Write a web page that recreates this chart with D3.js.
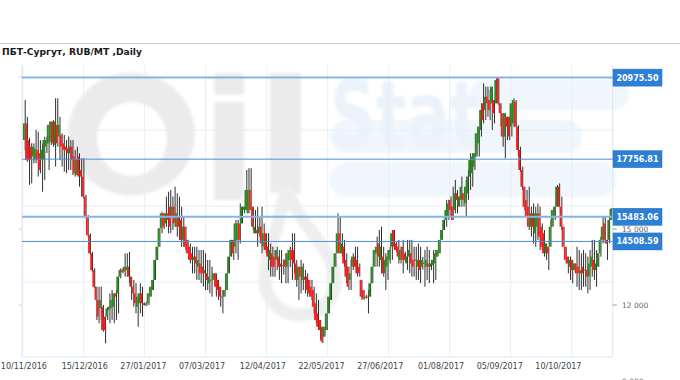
<!DOCTYPE html>
<html><head><meta charset="utf-8">
<script src="https://cdn.jsdelivr.net/npm/d3@7"></script>
<style>html,body{margin:0;padding:0;background:#fff;overflow:hidden}</style>
</head><body><svg id="c" width="680" height="380"></svg>
<script>
const title = "ПБТ-Сургут,  RUB/MT ,Daily";
const opens = [18510,19170,18510,18250,17860,17720,18120,17990,17720,17720,18250,18380,18450,19240,18320,19110,18650,18710,18380,18250,18180,17990,18250,17860,17130,17860,17330,17070,16280,15490,14760,14040,13380,12720,12200,11870,11930,11540,11540,11800,11870,11930,12460,12460,13120,13380,13320,13380,13510,13120,12720,12460,11930,12070,12460,12070,12000,12070,12330,12590,12990,13780,14300,15030,15620,15220,15620,15880,15490,15880,15090,15490,15360,14570,15090,14570,14300,14040,13780,13910,13510,13640,13510,13250,13250,12860,13000,12990,13250,12990,12720,12330,12330,12590,13250,13910,14570,14300,14570,15220,15220,15750,15750,15620,16540,15880,14830,14960,14830,15090,14300,14830,14300,13780,14040,13910,13780,13910,13640,13540,13780,13510,13780,14170,14170,13640,12990,13510,12990,13120,13120,12990,12720,12590,12070,11670,11410,11140,10750,11010,11670,12200,12860,13510,14040,14830,14040,14300,13780,13510,12990,13510,13910,13780,13510,12990,12590,12300,12330,12330,12860,13510,14040,14430,13780,13910,13250,13510,13780,14300,14960,14430,14300,13780,14300,14040,13640,13910,14040,13780,13800,13510,13780,13510,13670,13510,13640,13510,13570,13640,13910,14040,14570,14960,15360,15490,16150,15880,15750,16410,15880,16150,16410,16010,16410,17070,17200,17460,17860,18380,18910,19960,19700,20220,20090,19960,20090,19960,20950,19960,19570,18650,19430,19430,19040,19170,20030,19040,18120,17330,16670,16150,15880,15090,15620,14830,15090,15620,15090,14830,14040,14300,14300,15090,15490,15880,16670,15880,15090,14300,13910,13510,13780,13380,13640,13510,13250,13510,13360,13380,13120,13510,13780,13380,13510,14040,14570,15220,14570,14570,15360];
const highs = [20090,19430,18600,18380,18380,18910,18840,18510,18380,18640,18640,19110,19240,19300,20160,20160,19430,18780,18710,18510,18650,18510,18510,18120,18250,17990,17790,17790,16350,15550,14830,14100,13450,12720,12720,12720,12000,11540,11930,12460,12590,12460,12590,13120,13450,13450,14040,14040,14100,13120,12990,12860,12460,12860,12720,12100,12130,12460,12720,12990,13780,14300,15030,15680,15620,16280,16470,16540,16280,16670,16410,16280,15880,15490,15090,14570,14430,14300,14300,14300,14170,14170,14170,14040,13780,13780,13510,13250,13250,12990,12720,12590,12590,13250,13910,14570,14570,15360,15360,16010,15880,15880,17330,17400,17400,15880,15750,15880,15500,15880,15220,14830,14830,14430,14300,14170,14300,14170,14170,13800,14040,14170,14300,14830,14830,13780,13510,13780,13640,13380,13250,12990,12990,12720,12460,12200,11410,11140,11140,11670,12330,12860,13510,14040,15620,15490,14830,14570,14040,13510,13780,14040,14300,14300,13640,12990,12590,12400,12590,12860,13510,14170,14700,14960,15090,14300,14040,14170,14300,14960,14960,14500,14570,14300,14570,14100,14570,14570,14570,14300,14300,14430,14300,13900,14170,14300,14170,13780,14170,14170,14170,14570,14960,15360,16150,16150,16280,16670,16940,16540,16280,17070,16410,16940,17330,17990,17990,17990,18780,19040,19960,20750,20620,20620,20490,20620,20090,20975.5,20975.5,19960,19570,19570,19430,19430,19960,20160,20090,19100,18250,17460,16670,16540,16670,15880,16010,15880,16010,15880,15220,14960,14430,14300,15360,15750,15880,16740,16800,16280,15090,14300,13910,13910,13780,13640,14300,14170,14040,14170,14040,13910,14170,14570,14570,14170,14040,14700,15490,15490,14570,15490,15830];
const lows = [18120,17650,16740,16800,17590,17600,17070,17200,16470,16940,18000,17330,18320,18250,17460,18250,17720,17460,17260,17200,17330,17330,17130,17070,17130,16670,16280,16200,15420,14700,13970,13320,12660,11410,11280,11410,10950,10490,11410,11280,11410,11280,11410,11670,13050,13250,13120,13120,12860,12200,11930,11670,11140,11670,11540,11970,11960,12000,12330,12590,12990,13780,14300,14830,15000,15090,14830,14830,14960,15090,14700,14570,14300,14300,14170,14040,13640,13250,13250,12990,12990,12860,12720,12590,12590,12460,12330,12990,12330,12200,11930,11670,12330,12590,13250,13910,13780,14040,13780,14430,15220,15620,15750,15620,15750,14960,14830,14300,14700,14040,14170,14040,13380,13120,13120,13120,13380,12990,12860,13200,12860,12860,13500,12990,13250,12720,12200,12460,12590,12460,12330,12330,12200,11670,11280,11010,10620,10490,10750,11010,11670,12200,12860,13510,14040,14040,13910,13510,12860,12590,12590,13380,13510,13120,13120,12200,12200,12250,11670,12330,12860,13510,13510,13510,13250,13120,12590,12990,13640,13780,14170,14100,13640,13640,13250,13700,13380,13250,13120,13120,12990,12990,12860,13400,12720,12990,12860,13380,12860,12990,13910,14040,14570,14960,15090,15360,15490,15360,15620,15620,15880,15880,15880,15490,16150,16540,16670,17330,17860,17860,18650,19170,19300,19430,19300,18910,19170,19960,19900,19040,18250,17790,18510,18510,18650,19040,19040,17860,17260,16540,15750,15490,14960,14700,14430,14300,14570,14170,14170,13910,13780,13380,14300,15090,15360,15880,15880,14960,14300,13640,13250,12990,12860,13380,12720,12590,12590,12720,12720,12460,12590,13120,12990,12720,13510,13910,14430,14430,13780,14430,15360];
const closes = [19170,17720,17720,17720,18250,18180,17720,17330,18120,18510,18510,19110,19240,18380,19240,18380,19110,18250,18120,18120,17990,18250,17720,17200,17720,17070,17070,16280,15490,14760,14040,13380,12720,12200,11540,12200,11010,11010,11870,11930,12200,12460,12330,13120,13380,13300,13510,13510,13120,12720,12460,12070,12330,12460,12070,12000,12070,12460,12720,12990,13780,14300,15030,15620,15090,15620,15360,15090,15880,15220,15620,15090,14570,15090,14300,14040,13780,13780,13910,13640,13780,13250,13250,13380,12990,13120,12950,13250,12720,12590,12330,12300,12590,13250,13910,14570,14040,15220,15220,14570,15880,15880,16540,16540,15750,15090,15090,14830,15090,14430,14830,14170,13910,14170,13510,13510,14170,13510,13510,13580,13510,14040,14170,13780,13640,12990,13510,13120,13510,12990,12590,12460,12330,11930,11410,11140,11010,10550,11140,11670,12330,12860,13510,14040,14830,14040,14430,13640,13120,12720,13250,13910,13510,13250,13250,12330,12260,12330,12300,12860,13510,14170,14300,13910,14300,13250,13780,13910,14170,14830,14300,14170,13910,14170,13780,13780,13910,14170,13640,13510,13750,13780,13380,13780,13620,13780,13510,13640,13780,14040,14170,14570,14960,15360,15750,16010,15750,15360,16410,16150,16280,16670,16150,16670,17070,17720,17860,17990,18780,19040,19700,19300,20220,19960,19700,20620,19570,20880,19960,19570,18650,19570,19040,18650,19960,20090,19040,18120,17330,16670,15880,15490,15090,15620,15090,15620,15620,14700,14300,14040,14430,14040,15090,15750,15880,16670,15880,15090,14300,13780,13640,13780,13380,13640,13250,13250,13380,13250,13400,13120,13640,13910,13380,13640,14040,14570,15090,14570,14430,15360,15800];
const dateLabels = ["10/11/2016","15/12/2016","27/01/2017","07/03/2017","12/04/2017","22/05/2017","27/06/2017","01/08/2017","05/09/2017","10/10/2017"];
const dateLabelIndex = [0, 28, 55, 82, 110, 137, 164, 192, 219, 246];
const levels = [20975.50, 17756.81, 15483.06, 14508.59];
const yTicks = [9000, 12000, 15000, 18000, 21000];

const N = closes.length;
const svg = d3.select("#c");
const L = 22, R = 612.7, T = 65, B = 357;
const x = d3.scaleLinear().domain([0, N - 1]).range([23.9, 610.5]);
const y = d3.scaleLinear().domain([9000, 21000]).range([381, 77]);
const fmt = d3.formatLocale({decimal: ".", thousands: " ", grouping: [3], currency: ["", ""]}).format(",");

// header
svg.append("line").attr("x1", 0).attr("x2", 680).attr("y1", 43.5).attr("y2", 43.5)
  .attr("stroke", "#c8c8c8").attr("stroke-width", 1);
svg.append("text").attr("x", 2).attr("y", 55).text(title)
  .attr("font-family", "DejaVu Sans, Verdana, sans-serif").attr("font-weight", "bold")
  .attr("font-size", 9).attr("fill", "#1a1a1a")
  .attr("textLength", 140).attr("lengthAdjust", "spacingAndGlyphs");

// watermark
const defs = svg.append("defs");
defs.append("filter").attr("id", "blur").append("feGaussianBlur").attr("stdDeviation", 1.5);
defs.append("clipPath").attr("id", "plotclip").append("rect")
  .attr("x", L).attr("y", T).attr("width", R - L).attr("height", B - T);
const wm = svg.append("g").attr("filter", "url(#blur)");
const ell = (cx, cy, rx, ry) => `M${cx - rx},${cy} a${rx},${ry} 0 1,0 ${2 * rx},0 a${rx},${ry} 0 1,0 ${-2 * rx},0 Z`;
wm.append("path").attr("d", ell(131.5, 134, 63.5, 61.5) + ell(132, 139, 35, 37))
  .attr("fill", "#ebebeb").attr("fill-rule", "evenodd");
wm.append("rect").attr("x", 214).attr("y", 73).attr("width", 30).attr("height", 22).attr("rx", 4).attr("fill", "#ebebeb");
wm.append("rect").attr("x", 214).attr("y", 102).attr("width", 30).attr("height", 98).attr("fill", "#ebebeb");
wm.append("rect").attr("x", 270).attr("y", 73).attr("width", 31).attr("height", 120).attr("fill", "#ebebeb");
wm.append("path").attr("d", "M286,188 C300,228 335,248 335,280 A35,35 0 1,1 265,280 C265,250 280,228 286,188 Z")
  .attr("fill", "none").attr("stroke", "#eeeeee").attr("stroke-width", 13);
wm.append("rect").attr("x", 469).attr("y", 80).attr("width", 160).attr("height", 30).attr("rx", 15).attr("fill", "#f0f6fc");
wm.append("rect").attr("x", 330).attr("y", 120).attr("width", 252).attr("height", 33).attr("rx", 16).attr("fill", "#f0f6fc");
wm.append("rect").attr("x", 330).attr("y", 162).attr("width", 287).attr("height", 35).attr("rx", 17).attr("fill", "#f0f6fc");
wm.append("text").attr("x", 330).attr("y", 147).text("Stat")
  .attr("font-family", "DejaVu Sans, sans-serif").attr("font-weight", "bold").attr("font-size", 92)
  .attr("textLength", 150).attr("lengthAdjust", "spacingAndGlyphs").attr("fill", "#ebf2fa");

// grid
const grid = svg.append("g");
d3.range(10).forEach(k => {
  const gx = L + 0.7 + k * 61;
  grid.append("line").attr("x1", gx).attr("x2", gx).attr("y1", T).attr("y2", B)
    .attr("stroke", "#e4eef8").attr("stroke-width", 1);
});
yTicks.forEach(t => {
  const gy = y(t) - 23;
  if (gy > T && gy < B - 2)
    grid.append("line").attr("x1", L).attr("x2", R).attr("y1", gy).attr("y2", gy)
      .attr("stroke", "#e4eef8").attr("stroke-width", 1);
});
grid.append("line").attr("x1", L).attr("x2", L).attr("y1", T).attr("y2", B).attr("stroke", "#d8e6f3");
grid.append("line").attr("x1", R).attr("x2", R).attr("y1", T).attr("y2", B).attr("stroke", "#d8e6f3");
grid.append("line").attr("x1", L).attr("x2", R).attr("y1", B).attr("y2", B).attr("stroke", "#d8e6f3");

// left tick marks
yTicks.forEach(t => {
  const ty = y(t);
  if (ty > T - 15 && ty < B)
    svg.append("line").attr("x1", 19).attr("x2", 22).attr("y1", ty).attr("y2", ty).attr("stroke", "#c9d8e6");
});

// candles
const data = closes.map((c, i) => ({i, o: opens[i], h: highs[i], l: lows[i], c}));
const cg = svg.append("g").attr("clip-path", "url(#plotclip)");
cg.selectAll("line.w").data(data).join("line").attr("class", "w")
  .attr("x1", d => x(d.i) + 1.3).attr("x2", d => x(d.i) + 1.3)
  .attr("y1", d => y(d.h)).attr("y2", d => y(d.l))
  .attr("stroke", "#2e2e2e").attr("stroke-width", 1);
cg.selectAll("rect.b").data(data).join("rect").attr("class", "b")
  .attr("x", d => x(d.i) - 1).attr("width", 1.9)
  .attr("y", d => y(Math.max(d.o, d.c)))
  .attr("height", d => Math.max(1, Math.abs(y(d.o) - y(d.c))))
  .attr("fill", d => d.c >= d.o ? "#2a8a1e" : "#ff1c1c");

// level lines
levels.forEach((v, k) => {
  const light = k % 2 === 0;
  svg.append("line").attr("x1", L).attr("x2", R).attr("y1", y(v)).attr("y2", y(v))
    .attr("stroke", light ? "#84b5e6" : "#4d8fd6").attr("stroke-width", light ? 2 : 1);
});

// right axis ticks & labels (labels hidden where a level box covers them, as in the reference)
const covered = t => levels.some(v => Math.abs(y(v) - y(t)) < 12);
yTicks.forEach(t => {
  const ty = y(t);
  svg.append("line").attr("x1", R).attr("x2", R + 4).attr("y1", ty).attr("y2", ty).attr("stroke", "#999");
  if (!covered(t))
    svg.append("text").attr("x", 622).attr("y", ty).attr("dy", "0.35em").text(fmt(t))
      .attr("font-family", "DejaVu Sans, Verdana, sans-serif").attr("font-size", 7.5).attr("fill", "#666");
});

// level boxes
levels.forEach(v => {
  const ly = y(v);
  svg.append("rect").attr("x", 613).attr("y", ly - 8.5).attr("width", 49).attr("height", 17)
    .attr("fill", "#2c7fd4").attr("stroke", "#2a6fba").attr("stroke-width", 0.5);
  svg.append("text").attr("x", 637.5).attr("y", ly).attr("dy", "0.36em").attr("text-anchor", "middle")
    .text(v.toFixed(2))
    .attr("font-family", "DejaVu Sans, Verdana, sans-serif").attr("font-weight", "bold")
    .attr("font-size", 8).attr("fill", "#fff");
});

// x labels
dateLabels.forEach((s, k) => {
  svg.append("text").attr("x", x(dateLabelIndex[k])).attr("y", 369).attr("text-anchor", "middle").text(s)
    .attr("font-family", "DejaVu Sans, Verdana, sans-serif").attr("font-size", 8).attr("fill", "#444");
});
</script></body></html>
